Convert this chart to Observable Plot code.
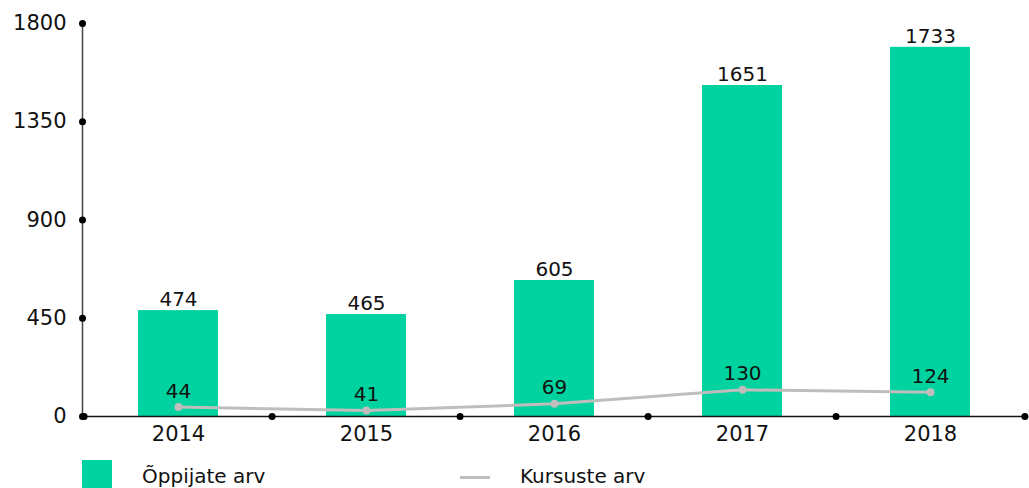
<!DOCTYPE html>
<html><head><meta charset="utf-8">
<script src="https://cdn.jsdelivr.net/npm/d3@7"></script>
<script src="https://cdn.jsdelivr.net/npm/@observablehq/plot@0.6"></script>
<style>
body{margin:0;background:#fff;font-family:"DejaVu Sans",sans-serif;}
#legend{position:relative;height:36px;margin-top:8px;font-size:20px;color:#111;}
.sw{position:absolute;top:0;left:82px;width:30px;height:30px;background:#00d2a0;}
.ln{position:absolute;top:16px;left:460px;width:30px;height:3px;background:#c0bdbd;}
.t1{position:absolute;left:142px;top:4px;}
.t2{position:absolute;left:520px;top:4px;}
</style></head>
<body>
<div id="chart"></div>
<div id="legend"><div class="sw"></div><span class="t1">Õppijate arv</span><div class="ln"></div><span class="t2">Kursuste arv</span></div>
<script>
const years = ["2014","2015","2016","2017","2018"];
// printed value labels
const learnerLabels = [474,465,605,1651,1733];
const courseLabels = [44,41,69,130,124];
// heights as drawn in the reference picture
const learners = [485,467,623,1516,1691];
const courses = [43,28,58,122,111];
const yTicks = [0,450,900,1350,1800];

const data = years.map((y,i)=>({year:y, learners:learners[i], courses:courses[i], lLab:learnerLabels[i], cLab:courseLabels[i]}));
const W = 1029, H = 452;
const mL = 82, mR = 3;
const step = (W - mL - mR) / years.length;

const chart = Plot.plot({
  width: W, height: H,
  marginLeft: mL, marginRight: mR, marginTop: 23, marginBottom: H - 416,
  style: {fontFamily: "DejaVu Sans, sans-serif", fontSize: "20px", color: "#111", background: "#fff"},
  x: {domain: years, paddingInner: 0.576, paddingOuter: 0.288, label: null},
  y: {domain: [0,1800], ticks: yTicks, label: null},
  marks: [
    Plot.barY(data, {x: "year", y: "learners", fill: "#00d2a0"}),
    Plot.text(data, {x: "year", y: "learners", text: d => String(d.lLab), dy: -11, lineAnchor: "middle", fill: "#111", fontSize: 20}),
    Plot.frame({anchor: "left", stroke: "#444", strokeWidth: 1.5}),
    Plot.ruleY([0], {stroke: "#111", strokeWidth: 1.5}),
    Plot.axisY({ticks: yTicks, tickSize: 0, tickPadding: 16, fontSize: 21, tickFormat: d => String(d)}),
    Plot.axisX({tickSize: 0, tickPadding: 10, fontSize: 21}),
    Plot.dot(yTicks, {y: d => d, frameAnchor: "left", r: 3.5, fill: "#000", stroke: null}),
    Plot.dot(years, {x: d => d, y: () => 0, dx: -step/2, r: 3.5, fill: "#000", stroke: null}),
    Plot.dot(years.slice(-1), {x: d => d, y: () => 0, dx: step/2, r: 3.5, fill: "#000", stroke: null}),
    Plot.line(data, {x: "year", y: "courses", stroke: "#c0bdbd", strokeWidth: 3}),
    Plot.dot(data, {x: "year", y: "courses", r: 4, fill: "#c0bdbd", stroke: null}),
    Plot.text(data, {x: "year", y: "courses", text: d => String(d.cLab), dy: -16, lineAnchor: "middle", fill: "#111", fontSize: 20})
  ]
});
document.getElementById("chart").appendChild(chart);
</script>
</body></html>
